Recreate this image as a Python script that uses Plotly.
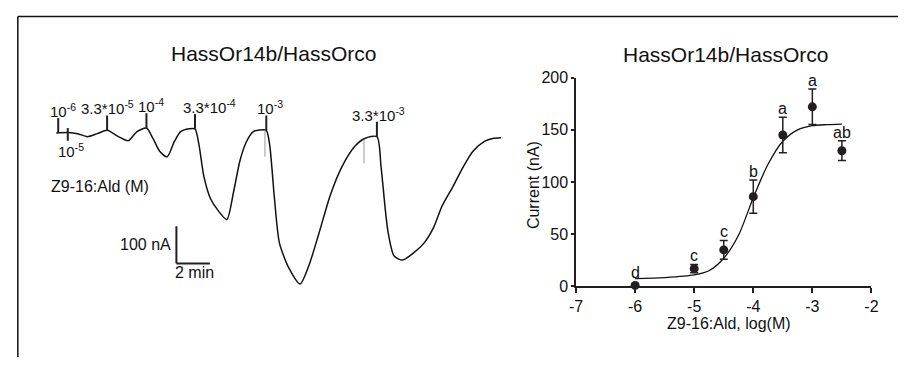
import numpy as np
import plotly.graph_objects as go

# ---------------- Left panel: two-electrode voltage clamp trace ----------------
trace_t = [0, 0.69, 1.28, 1.86, 2.45, 3.04, 3.72, 4.31, 4.81, 5.39, 5.78, 6.18, 6.63,
           7.06, 7.45, 7.94, 8.29, 8.53, 8.82, 9.22, 9.71, 10.19, 10.59, 10.98, 11.37,
           11.76, 12.16, 12.55, 12.75, 13.04, 13.34, 13.92, 14.57, 15.1, 15.69, 16.37,
           17.06, 17.84, 18.43, 19.16, 19.41, 19.81, 20.19, 20.69, 21.37, 21.96, 22.55,
           23.04, 23.72, 24.31, 24.9, 25.59, 26.08, 26.57]  # min
trace_i = [0, 1, -2, -10, -2, 7, -10, -21, 3, 13, -15, -49, -64,
           -23, 4, 11, 11, -32, -117, -177, -211, -233, -160, -74, -23,
           3, 8, 7, -31, -177, -297, -365, -406, -356, -271, -168,
           -92, -36, -15, -10, -92, -262, -331, -342, -322, -297, -254,
           -198, -143, -92, -49, -23, -15, -13]  # nA

stim_t = [0.12, 0.69, 3.04, 5.39, 8.29, 12.55, 19.16]
stim_labels = ["10<sup>-6</sup>", "10<sup>-5</sup>", "3.3*10<sup>-5</sup>", "10<sup>-4</sup>",
               "3.3*10<sup>-4</sup>", "10<sup>-3</sup>", "3.3*10<sup>-3</sup>"]
stim_below = [False, True, False, False, False, False, False]

artifact_t = [12.47, 18.39]
artifact_top = [8, -18]
artifact_bottom = [-64, -82]

scale_current = 100  # nA
scale_time = 2       # min
scale_origin_t = 7.18
scale_origin_i = -351

compound_label = "Z9-16:Ald (M)"
panel_title = "HassOr14b/HassOrco"

# ---------------- Right panel: dose response ----------------
log_conc = [-6, -5, -4.5, -4, -3.5, -3, -2.5]
mean_current = [1, 17, 35, 86, 145, 172, 130]
sem_current = [1, 4, 9, 16, 17, 17, 9.5]
letters = ["d", "c", "c", "b", "a", "a", "ab"]

fit_x = [-6, -5.5, -5, -4.75, -4.5, -4.25, -4, -3.75, -3.5, -3.25, -3, -2.75, -2.5]
fit_y = [7.5, 8.5, 11, 15, 27, 49, 85, 117, 139, 150, 154, 155, 155.5]

x_ticks = [-7, -6, -5, -4, -3, -2]
y_ticks = [0, 50, 100, 150, 200]

INK = "#231f20"
FONT = "Liberation Sans, Arial, sans-serif"
W, H = 905, 366

fig = go.Figure()

fig.add_trace(go.Scatter(x=trace_t, y=trace_i, mode="lines",
                         line=dict(color="#111111", width=1.5, shape="spline", smoothing=0.7),
                         xaxis="x", yaxis="y", showlegend=False, hoverinfo="skip"))
for t, a, b in zip(artifact_t, artifact_top, artifact_bottom):
    fig.add_trace(go.Scatter(x=[t, t], y=[a, b], mode="lines",
                             line=dict(color="#9a9a9a", width=1),
                             xaxis="x", yaxis="y", showlegend=False, hoverinfo="skip"))

annotations = []
shapes = []

# label horizontal nudges (pixels), styling only
label_xshift = [5, 3, 0, 5, 15, 4, 2]
up_len = 40
for t, lab, below, dx in zip(stim_t, stim_labels, stim_below, label_xshift):
    base = float(np.interp(t, trace_t, trace_i))
    if below:
        y0, y1 = base + 12, base - 22
        shapes.append(dict(type="line", xref="x", yref="y", x0=t, x1=t, y0=y0, y1=y1,
                           line=dict(color=INK, width=2)))
        annotations.append(dict(x=t, y=y1, xref="x", yref="y", text=lab, showarrow=False,
                                xanchor="center", yanchor="top", xshift=dx, yshift=2,
                                font=dict(size=15, color="#111", family=FONT)))
    else:
        y0, y1 = base, base + up_len
        shapes.append(dict(type="line", xref="x", yref="y", x0=t, x1=t, y0=y0, y1=y1,
                           line=dict(color=INK, width=2)))
        annotations.append(dict(x=t, y=y1, xref="x", yref="y", text=lab, showarrow=False,
                                xanchor="center", yanchor="bottom", xshift=dx, yshift=-4,
                                font=dict(size=15, color="#111", family=FONT)))

shapes.append(dict(type="line", xref="x", yref="y", x0=scale_origin_t, x1=scale_origin_t,
                   y0=scale_origin_i, y1=scale_origin_i + scale_current,
                   line=dict(color=INK, width=2)))
shapes.append(dict(type="line", xref="x", yref="y", x0=scale_origin_t, x1=scale_origin_t + scale_time,
                   y0=scale_origin_i, y1=scale_origin_i, line=dict(color=INK, width=2)))
annotations.append(dict(x=scale_origin_t, y=scale_origin_i + scale_current / 2, xref="x", yref="y",
                        text=f"{scale_current} nA", showarrow=False, xanchor="right", yanchor="middle",
                        xshift=-3, font=dict(size=16, color="#111", family=FONT)))
annotations.append(dict(x=scale_origin_t, y=scale_origin_i, xref="x", yref="y",
                        text=f"{scale_time} min", showarrow=False, xanchor="left", yanchor="top",
                        xshift=-3, yshift=1, font=dict(size=16, color="#111", family=FONT)))

annotations.append(dict(x=94.5 / W, y=1 - 187 / H, xref="paper", yref="paper", text=compound_label,
                        showarrow=False, xanchor="center", yanchor="middle",
                        font=dict(size=16, color="#111", family=FONT)))
annotations.append(dict(x=271 / W, y=1 - 48 / H, xref="paper", yref="paper", text=panel_title,
                        showarrow=False, xanchor="center", yanchor="middle",
                        font=dict(size=21, color="#111", family=FONT)))
annotations.append(dict(x=730 / W, y=1 - 49 / H, xref="paper", yref="paper", text=panel_title,
                        showarrow=False, xanchor="center", yanchor="middle",
                        font=dict(size=21, color="#111", family=FONT)))

fig.add_trace(go.Scatter(x=fit_x, y=fit_y, mode="lines",
                         line=dict(color="#111111", width=1.3, shape="spline", smoothing=0.8),
                         xaxis="x2", yaxis="y2", showlegend=False, hoverinfo="skip", cliponaxis=False))
fig.add_trace(go.Scatter(x=log_conc, y=mean_current, mode="markers",
                         marker=dict(color=INK, size=9),
                         error_y=dict(type="data", array=sem_current, color=INK, thickness=1.5, width=4),
                         xaxis="x2", yaxis="y2", showlegend=False, hoverinfo="skip", cliponaxis=False))

y_px_per_unit = (292 - 73) / 200.0
marker_r = 4.5
for x, m, s, lab in zip(log_conc, mean_current, sem_current, letters):
    gap = max(s * y_px_per_unit, marker_r) - s * y_px_per_unit
    annotations.append(dict(x=x, y=m + s, xref="x2", yref="y2", text=lab, showarrow=False,
                            xanchor="center", yanchor="bottom", yshift=gap - 2,
                            font=dict(size=16, color="#111", family=FONT)))

annotations.append(dict(x=535 / W, y=1 - 186 / H, xref="paper", yref="paper", text="Current (nA)",
                        showarrow=False, textangle=-90, xanchor="center", yanchor="middle",
                        font=dict(size=16, color="#111", family=FONT)))
annotations.append(dict(x=733 / W, y=1 - 331 / H, xref="paper", yref="paper",
                        text="Z9-16:Ald, log(M)", showarrow=False, xanchor="center", yanchor="middle",
                        font=dict(size=16, color="#111", family=FONT)))

shapes.append(dict(type="line", xref="paper", yref="paper", x0=11 / W, x1=1, y0=1 - 9 / H, y1=1 - 9 / H,
                   line=dict(color="#111", width=1.5)))
shapes.append(dict(type="line", xref="paper", yref="paper", x0=11 / W, x1=11 / W, y0=1 - 9 / H, y1=0,
                   line=dict(color="#111", width=1.5)))

left_px = 520
fig.update_layout(
    width=W, height=H, margin=dict(l=0, r=0, t=0, b=0),
    paper_bgcolor="white", plot_bgcolor="rgba(0,0,0,0)",
    font=dict(family=FONT, size=16, color="#111"),
    xaxis=dict(domain=[0, left_px / W], range=[-50 / 17, (left_px - 50) / 17], visible=False),
    yaxis=dict(domain=[0, 1], range=[(131 - H) / 0.39, 131 / 0.39], visible=False),
    xaxis2=dict(domain=[578 / W, 878 / W], range=[-7, -2], anchor="y2",
                showline=True, linecolor=INK, linewidth=1.5, ticks="outside", ticklen=5,
                tickwidth=1.5, tickcolor=INK, showgrid=False, zeroline=False,
                tickvals=x_ticks, ticktext=[str(v) for v in x_ticks],
                tickfont=dict(size=16, color="#111", family=FONT)),
    yaxis2=dict(domain=[1 - 292 / H, 1 - 73 / H], range=[0, 200], anchor="x2",
                showline=True, linecolor=INK, linewidth=1.5, ticks="outside", ticklen=3,
                tickwidth=1.5, tickcolor=INK, showgrid=False, zeroline=False,
                tickvals=y_ticks, ticktext=[str(v) for v in y_ticks],
                tickfont=dict(size=16, color="#111", family=FONT)),
    annotations=annotations, shapes=shapes,
)

fig.write_html("out.html")
